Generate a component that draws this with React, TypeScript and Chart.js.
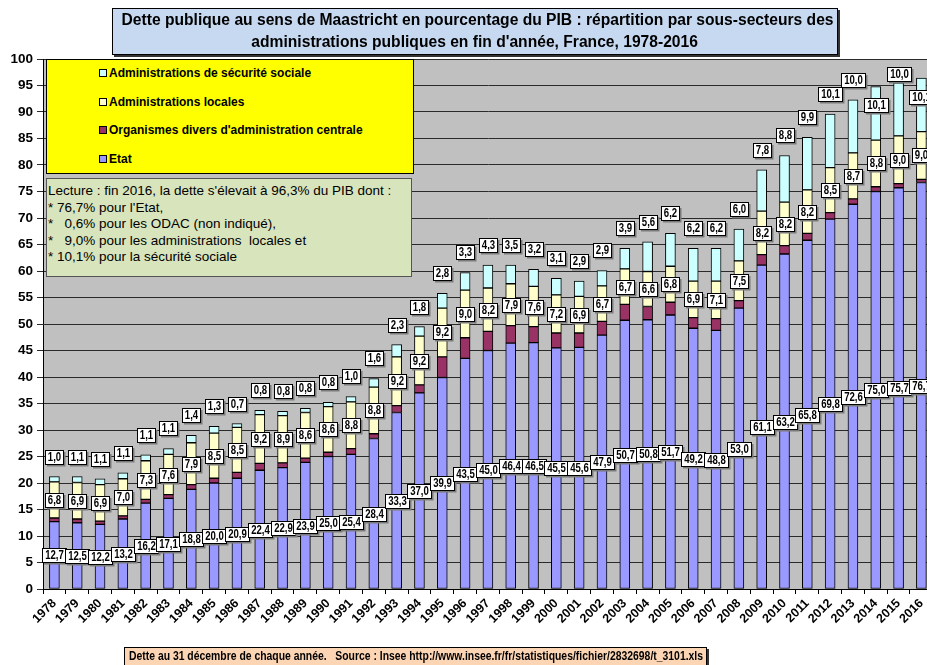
import React, { useEffect, useRef } from "react";
import { Chart, registerables } from "chart.js";
Chart.register(...registerables);

const years = [
  "1978", "1979", "1980", "1981", "1982", "1983", "1984", "1985", "1986", "1987",
  "1988", "1989", "1990", "1991", "1992", "1993", "1994", "1995", "1996", "1997",
  "1998", "1999", "2000", "2001", "2002", "2003", "2004", "2005", "2006", "2007",
  "2008", "2009", "2010", "2011", "2012", "2013", "2014", "2015", "2016",
];
const etat = [
  12.7, 12.5, 12.2, 13.2, 16.2, 17.1, 18.8, 20.0, 20.9, 22.4,
  22.9, 23.9, 25.0, 25.4, 28.4, 33.3, 37.0, 39.9, 43.5, 45.0,
  46.4, 46.5, 45.5, 45.6, 47.9, 50.7, 50.8, 51.7, 49.2, 48.8,
  53.0, 61.1, 63.2, 65.8, 69.8, 72.6, 75.0, 75.7, 76.7,
];
const odac = [
  0.7, 0.7, 0.6, 0.6, 0.7, 0.7, 0.9, 0.9, 1.1, 1.3,
  0.9, 0.8, 0.8, 1.1, 0.9, 1.3, 1.5, 3.9, 3.9, 3.6,
  3.3, 3.0, 2.8, 2.7, 2.6, 3.0, 2.5, 2.4, 2.0, 2.2,
  1.4, 2.0, 1.6, 1.3, 1.2, 1.0, 0.9, 0.8, 0.6,
];
const locales = [
  6.8, 6.9, 6.9, 7.0, 7.3, 7.6, 7.9, 8.5, 8.5, 9.2,
  8.9, 8.6, 8.6, 8.8, 8.8, 9.2, 9.2, 9.2, 9.0, 8.2,
  7.9, 7.6, 7.2, 6.9, 6.7, 6.7, 6.6, 6.8, 6.9, 7.1,
  7.5, 8.2, 8.2, 8.2, 8.5, 8.7, 8.8, 9.0, 9.0,
];
const secu = [
  1.0, 1.1, 1.1, 1.1, 1.1, 1.1, 1.4, 1.3, 0.7, 0.8,
  0.8, 0.8, 0.8, 1.0, 1.6, 2.3, 1.8, 2.8, 3.3, 4.3,
  3.5, 3.2, 3.1, 2.9, 2.9, 3.9, 5.6, 6.2, 6.2, 6.2,
  6.0, 7.8, 8.8, 9.9, 10.1, 10.0, 10.1, 10.0, 10.1,
];
const seriesNames = [
  "Etat",
  "Organismes divers d'administration centrale",
  "Administrations locales",
  "Administrations de sécurité sociale",
];
const seriesColors = ["#9999ff", "#993366", "#ffffcc", "#ccffff"];
const titleLines = [
  "Dette publique au sens de Maastricht en pourcentage du PIB : répartition par sous-secteurs des",
  "administrations publiques en fin d'année, France, 1978-2016",
];
const noteLines = [
  "Lecture : fin 2016, la dette s'élevait à 96,3% du PIB dont :",
  "* 76,7% pour l'Etat,",
  "*   0,6% pour les ODAC (non indiqué),",
  "*   9,0% pour les administrations  locales et",
  "* 10,1% pour la sécurité sociale",
];
const footerText =
  "Dette au 31 décembre de chaque année.   Source : Insee http://www.insee.fr/fr/statistiques/fichier/2832698/t_3101.xls";

const SANS = "'Liberation Sans', Arial, sans-serif";

const fmt = (v: number) => v.toFixed(1).replace(".", ",");

let measureCtx: CanvasRenderingContext2D | null = null;
const measure = (text: string, font: string) => {
  if (!measureCtx) measureCtx = document.createElement("canvas").getContext("2d");
  if (!measureCtx) return 1;
  measureCtx.font = font;
  return measureCtx.measureText(text).width;
};

const bgPlugin = {
  id: "plotBg",
  beforeDraw(chart: any) {
    const { ctx, chartArea } = chart;
    ctx.save();
    ctx.fillStyle = "#c0c0c0";
    ctx.fillRect(chartArea.left, chartArea.top, chartArea.right - chartArea.left, chartArea.bottom - chartArea.top);
    ctx.restore();
  },
};

const LABEL_SCALE = 0.8;
const labelPlugin = {
  id: "valueLabels",
  afterDatasetsDraw(chart: any) {
    const ctx = chart.ctx;
    const ys = chart.scales.y;
    const xs = chart.scales.x;
    ctx.save();
    ctx.font = `bold 12px ${SANS}`;
    ctx.textAlign = "center";
    ctx.textBaseline = "middle";
    const box = (txt: string, cx: number, cy: number) => {
      const w = Math.round(ctx.measureText(txt).width * LABEL_SCALE + 5);
      const h = 14;
      const x0 = Math.round(cx - w / 2) + 0.5;
      const y0 = Math.round(cy - h / 2) + 0.5;
      ctx.fillStyle = "#7a7a7a";
      ctx.fillRect(x0 + 1.5, y0 + 1.5, w + 0.5, h + 0.5);
      ctx.fillStyle = "#ffffff";
      ctx.fillRect(x0, y0, w, h);
      ctx.strokeStyle = "#000000";
      ctx.lineWidth = 1;
      ctx.strokeRect(x0, y0, w, h);
      ctx.fillStyle = "#000000";
      ctx.save();
      ctx.translate(x0 + w / 2, y0 + h / 2 + 0.5);
      ctx.scale(LABEL_SCALE, 1);
      ctx.fillText(txt, 0, 0);
      ctx.restore();
    };
    let prev: number | null = null;
    years.forEach((_, i) => {
      const cx = xs.getPixelForValue(i);
      const e = etat[i], o = odac[i], l = locales[i], s = secu[i];
      box(fmt(e), cx, ys.getPixelForValue(e / 2));
      box(fmt(l), cx, ys.getPixelForValue(e + o + l / 2));
      const total = e + o + l + s;
      let v = total + 3.8;
      let clamped = false;
      if (v > 97.2) { v = 97.2; clamped = true; }
      if (clamped && prev !== null && Math.abs(prev - v) < 2.5) v = e + o + l + s / 2 + 1.5;
      prev = v;
      box(fmt(s), cx, ys.getPixelForValue(v));
    });
    ctx.restore();
  },
};

function Squeezed({ text, font, width }: { text: string; font: string; width: number }) {
  const f = width / measure(text, font);
  return (
    <span style={{ display: "inline-block", transform: `scaleX(${f})`, transformOrigin: "center", whiteSpace: "pre" }}>
      {text}
    </span>
  );
}

export default function App() {
  const ref = useRef<HTMLCanvasElement | null>(null);
  useEffect(() => {
    if (!ref.current) return;
    const series = [etat, odac, locales, secu];
    const chart = new Chart(ref.current, {
      type: "bar",
      data: {
        labels: years,
        datasets: series.map((d, k) => ({
          label: seriesNames[k],
          data: d,
          backgroundColor: seriesColors[k],
          borderColor: "#000000",
          borderWidth: 1,
          borderSkipped: false,
          barThickness: 10,
        })),
      },
      options: {
        responsive: false,
        animation: false,
        devicePixelRatio: 1,
        layout: { padding: { top: 59, right: 0, left: 0, bottom: 0 } },
        plugins: { legend: { display: false }, tooltip: { enabled: false }, title: { display: false } },
        scales: {
          x: {
            stacked: true,
            offset: true,
            grid: { display: true, drawOnChartArea: false, drawTicks: true, tickLength: 5, color: "#000", offset: true },
            border: { display: true, color: "#000", width: 1 },
            ticks: {
              autoSkip: false,
              minRotation: 45,
              maxRotation: 45,
              padding: 2,
              color: "#000",
              font: { family: SANS, size: 12.5, weight: "bold" },
            },
            afterFit: (s: any) => { s.height = 76; },
          },
          y: {
            stacked: true,
            min: 0,
            max: 100,
            ticks: {
              stepSize: 5,
              padding: 4,
              color: "#000",
              font: { family: SANS, size: 13.5, weight: "bold" },
            },
            grid: { color: "#2a2a2a", lineWidth: 1, tickLength: 6, drawTicks: true },
            border: { display: true, color: "#000", width: 1 },
            afterFit: (s: any) => { s.width = 43; },
          },
        },
      },
      plugins: [bgPlugin, labelPlugin],
    } as any);
    return () => chart.destroy();
  }, []);

  const legendOrder = [3, 2, 1, 0];
  const titleFont = `bold 16px ${SANS}`;
  const titleScale = 712 / measure(titleLines[0], titleFont);
  const footFont = `bold 12px ${SANS}`;
  const footScale = 574 / measure(footerText, footFont);
  return (
    <div style={{ position: "fixed", left: 0, top: 0, width: 927, height: 665, overflow: "hidden", background: "#fff" }}>
      <canvas ref={ref} width={934} height={665} style={{ position: "absolute", left: 0, top: 0 }} />
      <div
        style={{
          position: "absolute", left: 112, top: 8, width: 724, height: 45,
          background: "#c6d9f1", border: "1px solid #000", boxShadow: "2px 2px 0 #333",
          fontFamily: SANS, fontWeight: "bold", fontSize: 16, lineHeight: "22px",
          textAlign: "center", color: "#000", whiteSpace: "nowrap",
        }}
      >
        {titleLines.map((t, i) => (
          <div key={i}>
            <span style={{ display: "inline-block", transform: `scaleX(${titleScale})`, transformOrigin: "center", whiteSpace: "pre" }}>{t}</span>
          </div>
        ))}
      </div>
      <div
        style={{
          position: "absolute", left: 46, top: 59, width: 366, height: 113,
          background: "#ffff00", border: "1px solid #000",
        }}
      >
        {legendOrder.map((k, j) => (
          <div key={k} style={{ position: "absolute", left: 52, top: 6 + j * 28.7, height: 14, display: "flex", alignItems: "center", whiteSpace: "nowrap" }}>
            <span style={{ display: "inline-block", width: 6, height: 6, background: seriesColors[k], border: "1px solid #000", marginRight: 2 }} />
            <span style={{ fontFamily: SANS, fontWeight: "bold", fontSize: 12, color: "#000" }}>{seriesNames[k]}</span>
          </div>
        ))}
      </div>
      <div
        style={{
          position: "absolute", left: 46, top: 178, width: 366, height: 99,
          background: "#d8e4bc", border: "1px solid #555",
          fontFamily: SANS, fontSize: 13.5, lineHeight: "16.6px", color: "#000",
          paddingLeft: 1, paddingTop: 4, boxSizing: "border-box", whiteSpace: "pre",
        }}
      >
        {noteLines.map((t, i) => <div key={i}>{t}</div>)}
      </div>
      <div
        style={{
          position: "absolute", left: 124, top: 647, width: 583, height: 22,
          background: "#fcd5b4", border: "1px solid #000", boxShadow: "2px 2px 0 #333",
          fontFamily: SANS, fontWeight: "bold", fontSize: 12, lineHeight: "17px",
          color: "#000", whiteSpace: "pre", boxSizing: "border-box",
        }}
      >
        <span style={{ display: "inline-block", transform: `scaleX(${footScale})`, transformOrigin: "left", whiteSpace: "pre", marginLeft: 4 }}>{footerText}</span>
      </div>
    </div>
  );
}
